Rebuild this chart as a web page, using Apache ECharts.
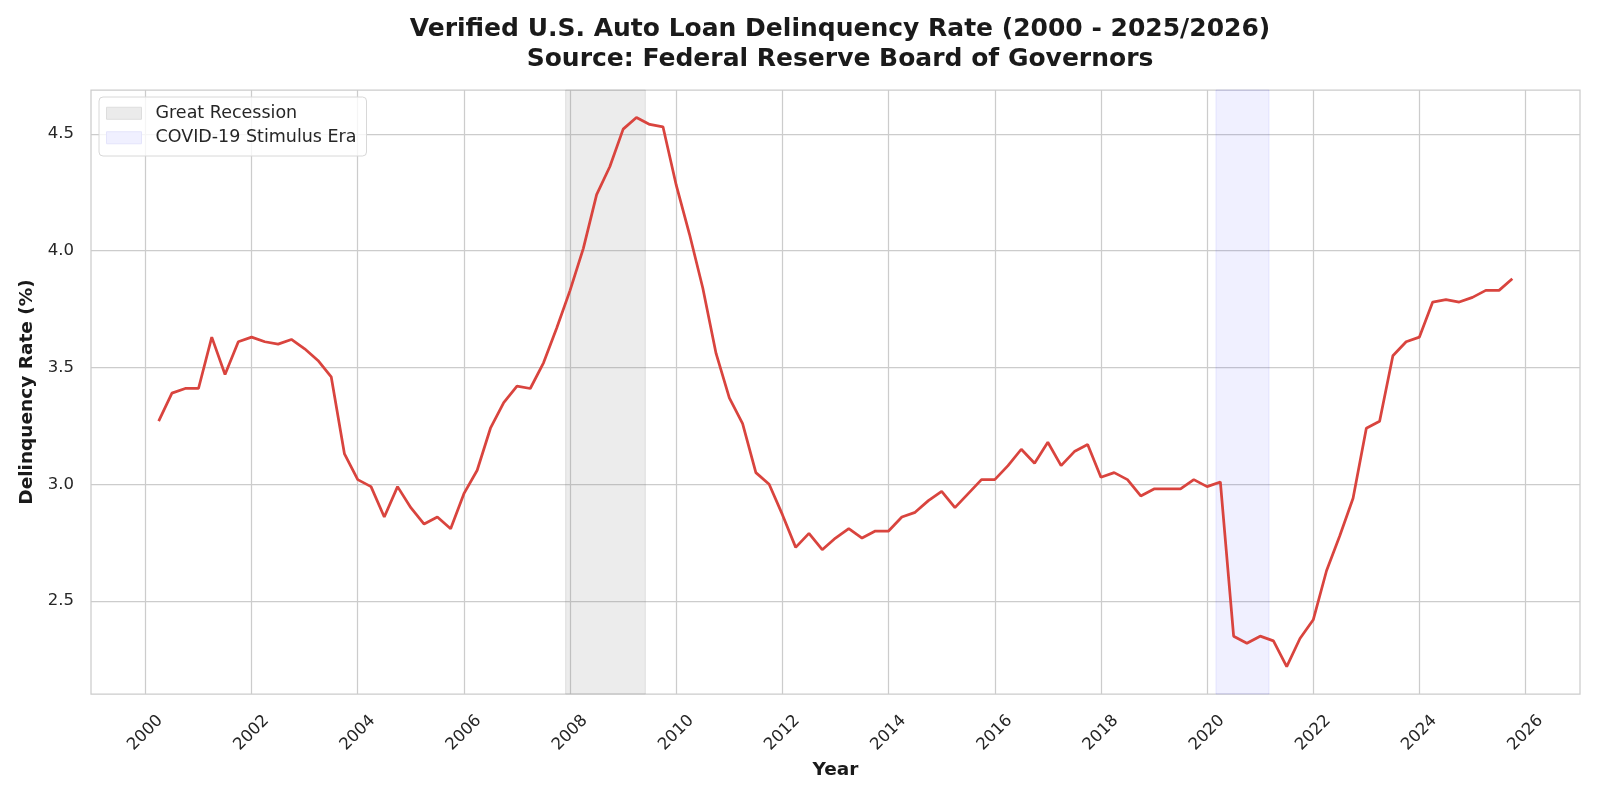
<!DOCTYPE html>
<html>
<head>
<meta charset="utf-8">
<title>Auto Loan Delinquency Rate</title>
<script src="https://cdn.jsdelivr.net/npm/echarts@6/dist/echarts.min.js"></script>
<style>
  html, body { margin: 0; padding: 0; background: #fff; }
  #chart { width: 1600px; height: 800px; }
</style>
</head>
<body>
<div id="chart"></div>
<script>
// quarterly readings, 2000Q2 .. 2025Q4
const quarters = [
  '2000Q2', '2000Q3', '2000Q4',
  '2001Q1', '2001Q2', '2001Q3', '2001Q4',
  '2002Q1', '2002Q2', '2002Q3', '2002Q4',
  '2003Q1', '2003Q2', '2003Q3', '2003Q4',
  '2004Q1', '2004Q2', '2004Q3', '2004Q4',
  '2005Q1', '2005Q2', '2005Q3', '2005Q4',
  '2006Q1', '2006Q2', '2006Q3', '2006Q4',
  '2007Q1', '2007Q2', '2007Q3', '2007Q4',
  '2008Q1', '2008Q2', '2008Q3', '2008Q4',
  '2009Q1', '2009Q2', '2009Q3', '2009Q4',
  '2010Q1', '2010Q2', '2010Q3', '2010Q4',
  '2011Q1', '2011Q2', '2011Q3', '2011Q4',
  '2012Q1', '2012Q2', '2012Q3', '2012Q4',
  '2013Q1', '2013Q2', '2013Q3', '2013Q4',
  '2014Q1', '2014Q2', '2014Q3', '2014Q4',
  '2015Q1', '2015Q2', '2015Q3', '2015Q4',
  '2016Q1', '2016Q2', '2016Q3', '2016Q4',
  '2017Q1', '2017Q2', '2017Q3', '2017Q4',
  '2018Q1', '2018Q2', '2018Q3', '2018Q4',
  '2019Q1', '2019Q2', '2019Q3', '2019Q4',
  '2020Q1', '2020Q2', '2020Q3', '2020Q4',
  '2021Q1', '2021Q2', '2021Q3', '2021Q4',
  '2022Q1', '2022Q2', '2022Q3', '2022Q4',
  '2023Q1', '2023Q2', '2023Q3', '2023Q4',
  '2024Q1', '2024Q2', '2024Q3', '2024Q4',
  '2025Q1', '2025Q2', '2025Q3', '2025Q4'
]

const rates = [
  3.27, 3.39, 3.41,
  3.41, 3.63, 3.47, 3.61,
  3.63, 3.61, 3.60, 3.62,
  3.58, 3.53, 3.46, 3.13,
  3.02, 2.99, 2.86, 2.99,
  2.90, 2.83, 2.86, 2.81,
  2.96, 3.06, 3.24, 3.35,
  3.42, 3.41, 3.52, 3.67,
  3.83, 4.01, 4.24, 4.36,
  4.52, 4.57, 4.54, 4.53,
  4.28, 4.07, 3.84, 3.56,
  3.37, 3.26, 3.05, 3.00,
  2.87, 2.73, 2.79, 2.72,
  2.77, 2.81, 2.77, 2.80,
  2.80, 2.86, 2.88, 2.93,
  2.97, 2.90, 2.96, 3.02,
  3.02, 3.08, 3.15, 3.09,
  3.18, 3.08, 3.14, 3.17,
  3.03, 3.05, 3.02, 2.95,
  2.98, 2.98, 2.98, 3.02,
  2.99, 3.01, 2.35, 2.32,
  2.35, 2.33, 2.22, 2.34,
  2.42, 2.63, 2.78, 2.94,
  3.24, 3.27, 3.55, 3.61,
  3.63, 3.78, 3.79, 3.78,
  3.80, 3.83, 3.83, 3.88
]

// shaded periods (decimal years)
const recession = [2007.917, 2009.417]
const covid = [2020.167, 2021.167]

const xTicks = [2000, 2002, 2004, 2006, 2008, 2010, 2012, 2014, 2016, 2018, 2020, 2022, 2024, 2026]
const yTicks = [2.5, 3.0, 3.5, 4.0, 4.5]

const FONT = 'DejaVu Sans'

function toYear(q) {
  return Number(q.slice(0, 4)) + (Number(q.slice(5)) - 1) / 4
}

const points = quarters.map((q, i) => [toYear(q), rates[i]])

const chart = echarts.init(document.getElementById('chart'), null, { renderer: 'canvas' })

chart.setOption({
  backgroundColor: '#ffffff',
  animation: false,
  title: {
    text: 'Verified U.S. Auto Loan Delinquency Rate (2000 - 2025/2026)\nSource: Federal Reserve Board of Governors',
    left: 835,
    top: 9,
    textAlign: 'center',
    textStyle: {
      fontFamily: FONT,
      fontSize: 25,
      fontWeight: 'bold',
      color: '#1a1a1a',
      lineHeight: 30.5
    }
  },
  legend: {
    orient: 'vertical',
    left: 99,
    top: 97,
    padding: [6, 10, 8, 7],
    itemWidth: 35,
    itemHeight: 12,
    itemGap: 4,
    backgroundColor: 'rgba(255,255,255,0.8)',
    borderColor: '#d8d8d8',
    borderWidth: 1,
    borderRadius: 4,
    textStyle: {
      fontFamily: FONT,
      fontSize: 17.5,
      color: '#262626',
      lineHeight: 20.5,
      padding: [0, 0, 0, 9]
    },
    data: [
      { name: 'Great Recession', icon: 'rect', itemStyle: { color: '#ebebeb', borderColor: '#dddddd', borderWidth: 1 } },
      { name: 'COVID-19 Stimulus Era', icon: 'rect', itemStyle: { color: '#f0f0ff', borderColor: '#e4e4fb', borderWidth: 1 } }
    ]
  },
  grid: {
    left: 91,
    right: 20,
    top: 90,
    bottom: 106,
    show: true,
    borderColor: '#cccccc',
    borderWidth: 1.25,
    containLabel: false
  },
  xAxis: {
    type: 'value',
    min: 1998.975,
    max: 2027.025,
    name: 'Year',
    nameLocation: 'middle',
    nameGap: 66,
    nameTextStyle: { fontFamily: FONT, fontSize: 18.5, fontWeight: 'bold', color: '#1a1a1a' },
    axisLine: { show: false },
    axisTick: { show: false, customValues: xTicks },
    axisLabel: {
      customValues: xTicks,
      rotate: 45,
      align: 'center',
      verticalAlign: 'middle',
      margin: 39,
      fontFamily: FONT,
      fontSize: 16.5,
      color: '#262626',
      formatter: v => String(Math.round(v))
    },
    splitLine: { show: true, lineStyle: { color: '#cccccc', width: 1.25 } }
  },
  yAxis: {
    type: 'value',
    min: 2.1025,
    max: 4.6875,
    name: 'Delinquency Rate (%)',
    nameLocation: 'middle',
    nameGap: 46,
    nameTextStyle: { fontFamily: FONT, fontSize: 18.5, fontWeight: 'bold', color: '#1a1a1a' },
    axisLine: { show: false },
    axisTick: { show: false, customValues: yTicks },
    axisLabel: {
      customValues: yTicks,
      margin: 17,
      fontFamily: FONT,
      fontSize: 16.5,
      color: '#262626',
      formatter: v => v.toFixed(1)
    },
    splitLine: { show: true, lineStyle: { color: '#cccccc', width: 1.25 } }
  },
  series: [
    {
      name: 'Great Recession',
      type: 'line',
      data: [],
      itemStyle: { color: '#ebebeb' },
      markArea: {
        silent: true,
        itemStyle: { color: 'rgba(128,128,128,0.15)', borderColor: 'rgba(128,128,128,0.2)', borderWidth: 1 },
        data: [[{ xAxis: recession[0] }, { xAxis: recession[1] }]]
      }
    },
    {
      name: 'COVID-19 Stimulus Era',
      type: 'line',
      data: [],
      itemStyle: { color: '#f0f0ff' },
      markArea: {
        silent: true,
        itemStyle: { color: 'rgba(0,0,255,0.06)', borderColor: 'rgba(0,0,255,0.08)', borderWidth: 1 },
        data: [[{ xAxis: covid[0] }, { xAxis: covid[1] }]]
      }
    },
    {
      name: 'Delinquency Rate',
      type: 'line',
      data: points,
      showSymbol: false,
      smooth: false,
      z: 5,
      lineStyle: { color: '#d9443e', width: 2.75 },
      itemStyle: { color: '#d9443e' }
    }
  ]
})
</script>
</body>
</html>
